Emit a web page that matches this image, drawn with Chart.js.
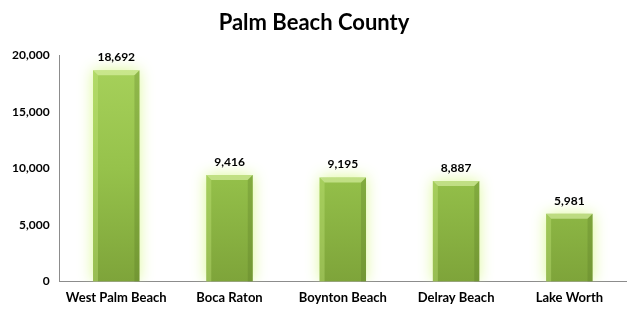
<!DOCTYPE html>
<html><head><meta charset="utf-8">
<script src="https://cdn.jsdelivr.net/npm/chart.js@4"></script>
<style>html,body{margin:0;padding:0;background:#fff}#w{width:642px;height:316px}</style>
</head><body><div id="w"><canvas id="c" width="642" height="316"></canvas></div>
<script>
const categories = ["West Palm Beach", "Boca Raton", "Boynton Beach", "Delray Beach", "Lake Worth"];
const values = [18692, 9416, 9195, 8887, 5981];
const yTicks = [0, 5000, 10000, 15000, 20000];
const titleText = "Palm Beach County";

const FONT = "Lato, 'Open Sans', sans-serif";

const glow = {
  id: 'glow',
  beforeDatasetsDraw(chart) {
    const ctx = chart.ctx;
    ctx.save();
    ctx.shadowColor = 'rgba(220,248,150,1)';
    ctx.shadowBlur = 14;
  },
  afterDatasetsDraw(chart) {
    const ctx = chart.ctx;
    ctx.restore();
    const meta = chart.getDatasetMeta(0);
    ctx.save();
    meta.data.forEach((bar, i) => {
      const w = bar.width, l = bar.x - w / 2, r = bar.x + w / 2, t = bar.y;
      const b = 5;
      ctx.fillStyle = 'rgba(230,250,180,0.55)';
      ctx.beginPath();
      ctx.moveTo(l, t); ctx.lineTo(r, t); ctx.lineTo(r - b, t + b); ctx.lineTo(l + b, t + b); ctx.closePath(); ctx.fill();
      ctx.fillStyle = 'rgba(200,235,130,0.35)';
      ctx.beginPath();
      ctx.moveTo(l, t); ctx.lineTo(l + b, t + b); ctx.lineTo(l + b, bar.base); ctx.lineTo(l, bar.base); ctx.closePath(); ctx.fill();
      ctx.fillStyle = 'rgba(80,110,30,0.25)';
      ctx.beginPath();
      ctx.moveTo(r, t); ctx.lineTo(r - b, t + b); ctx.lineTo(r - b, bar.base); ctx.lineTo(r, bar.base); ctx.closePath(); ctx.fill();
      ctx.fillStyle = '#000';
      ctx.font = "bold 12px " + FONT;
      ctx.textAlign = 'center';
      ctx.textBaseline = 'bottom';
      ctx.fillText(values[i].toLocaleString('en-US'), bar.x, t - 7);
    });
    ctx.restore();
  }
};

new Chart(document.getElementById('c'), {
  type: 'bar',
  data: {
    labels: categories,
    datasets: [{
      data: values,
      backgroundColor(ctx) {
        const ch = ctx.chart, a = ch.chartArea;
        if (!a) return '#9bc84c';
        const g = ch.ctx.createLinearGradient(0, a.top, 0, a.bottom);
        g.addColorStop(0, '#a8d25c');
        g.addColorStop(0.5, '#96c24b');
        g.addColorStop(1, '#7ea43a');
        return g;
      },
      borderWidth: 0,
      categoryPercentage: 1,
      barPercentage: 0.41
    }]
  },
  options: {
    responsive: false,
    animation: false,
    layout: { padding: { left: 2, right: 16, top: 0, bottom: 1 } },
    plugins: {
      legend: { display: false },
      tooltip: { enabled: false },
      title: {
        display: true, text: titleText, color: '#000',
        font: { family: FONT, size: 22, weight: 'bold' },
        padding: { top: 10, bottom: 19 }
      }
    },
    scales: {
      x: {
        grid: { display: false, drawTicks: false },
        border: { color: '#8c8c8c', width: 1 },
        ticks: { color: '#000', font: { family: FONT, size: 13, weight: 'bold' }, padding: 9, maxRotation: 0 }
      },
      y: {
        min: 0, max: 20000,
        afterBuildTicks(s) { s.ticks = yTicks.map(v => ({ value: v })); },
        grid: { display: false, drawTicks: false },
        border: { color: '#8c8c8c', width: 1 },
        ticks: { color: '#000', font: { family: FONT, size: 12, weight: 'bold' }, padding: 10,
          callback: v => v.toLocaleString('en-US') }
      }
    }
  },
  plugins: [glow]
});
</script></body></html>
